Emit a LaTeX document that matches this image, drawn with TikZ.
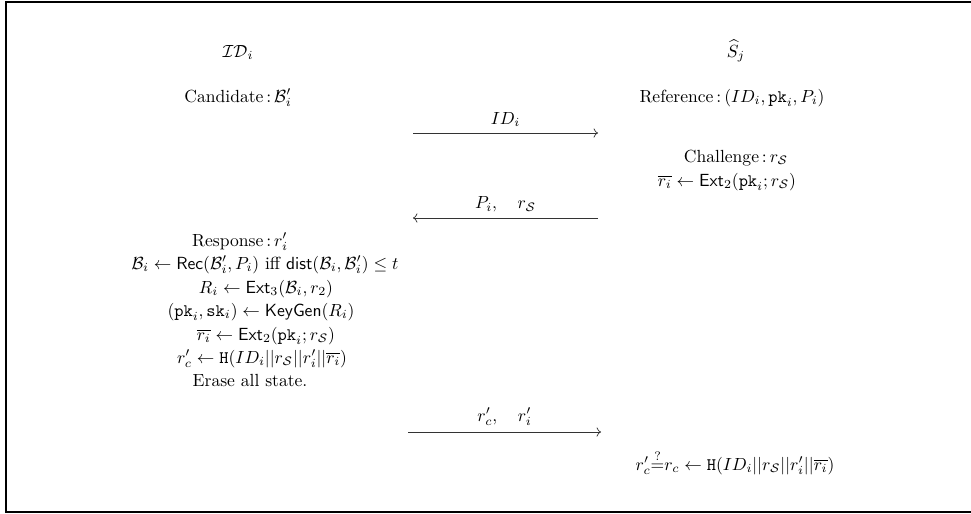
\documentclass[tikz,border=0pt]{standalone}
\usepackage{amsmath}
\usepackage{amssymb}
\usetikzlibrary{arrows.meta}

\begin{document}
\begin{tikzpicture}[
    x=0.02cm, y=-0.02cm,
    msg/.style={-{To}, draw=black!80, thin},
    lbl/.style={above=0pt},
    txt/.style={anchor=base, inner sep=1pt},
]
    \useasboundingbox (0,0) rectangle (971,514);
    \draw[line width=1.1pt] (990,2) -- (6,2) -- (6,512) -- (990,512);

    % parties
    \node[txt] (dev) at (238,57) {$\mathcal{ID}_i$};
    \node[txt] (srv) at (736,57) {$\widehat{S}_j$};

    \node[txt] (cand) at (238,102) {Candidate\,:\,$\mathcal{B}'_i$};
    \node[txt] (ref) at (732,102) {Reference\,:\,$(ID_i,\mathtt{pk}_i,P_i)$};

    % first message
    \coordinate (m1s) at (413,133);
    \coordinate (m1e) at (598,133);
    \draw[msg] (m1s) -- node[lbl] {$ID_i$} (m1e);

    \node[txt] (chal) at (736,162) {Challenge\,:\,$r_{\mathcal{S}}$};
    \node[txt] (rbar) at (727,186) {$\overline{r_i} \leftarrow \mathsf{Ext}_2(\mathtt{pk}_i; r_{\mathcal{S}})$};

    % second message
    \coordinate (m2s) at (598,218);
    \coordinate (m2e) at (413,218);
    \draw[msg] (m2s) -- node[lbl] {$P_i,\quad r_{\mathcal{S}}$} (m2e);

    % device side
    \node[txt] (resp) at (240,246) {Response\,:\,$r'_i$};
    \node[txt] (rec) at (265,269) {$\mathcal{B}_i \leftarrow \mathsf{Rec}(\mathcal{B}'_i,P_i)$ iff $\mathsf{dist}(\mathcal{B}_i,\mathcal{B}'_i) \leq t$};
    \node[txt] (ext3) at (266,293) {$R_i \leftarrow \mathsf{Ext}_3(\mathcal{B}_i,r_2)$};
    \node[txt] (keyg) at (261,316) {$(\mathtt{pk}_i,\mathtt{sk}_i) \leftarrow \mathsf{KeyGen}(R_i)$};
    \node[txt] (ext2) at (266,340) {$\overline{r_i} \leftarrow \mathsf{Ext}_2(\mathtt{pk}_i; r_{\mathcal{S}})$};
    \node[txt] (hash) at (262,363) {$r'_c \leftarrow \mathtt{H}(ID_i||r_{\mathcal{S}}||r'_i||\overline{r_i})$};
    \node[txt] (erase) at (250,386) {Erase all state.};

    % third message
    \coordinate (m3s) at (408,432);
    \coordinate (m3e) at (601,432);
    \draw[msg] (m3s) -- node[lbl] {$r'_c,\quad r'_i$} (m3e);

    \node[txt] (check) at (735,470) {$r'_c{\stackrel{?}{=}}r_c \leftarrow \mathtt{H}(ID_i||r_{\mathcal{S}}||r'_i||\overline{r_i})$};

\end{tikzpicture}
\end{document}
